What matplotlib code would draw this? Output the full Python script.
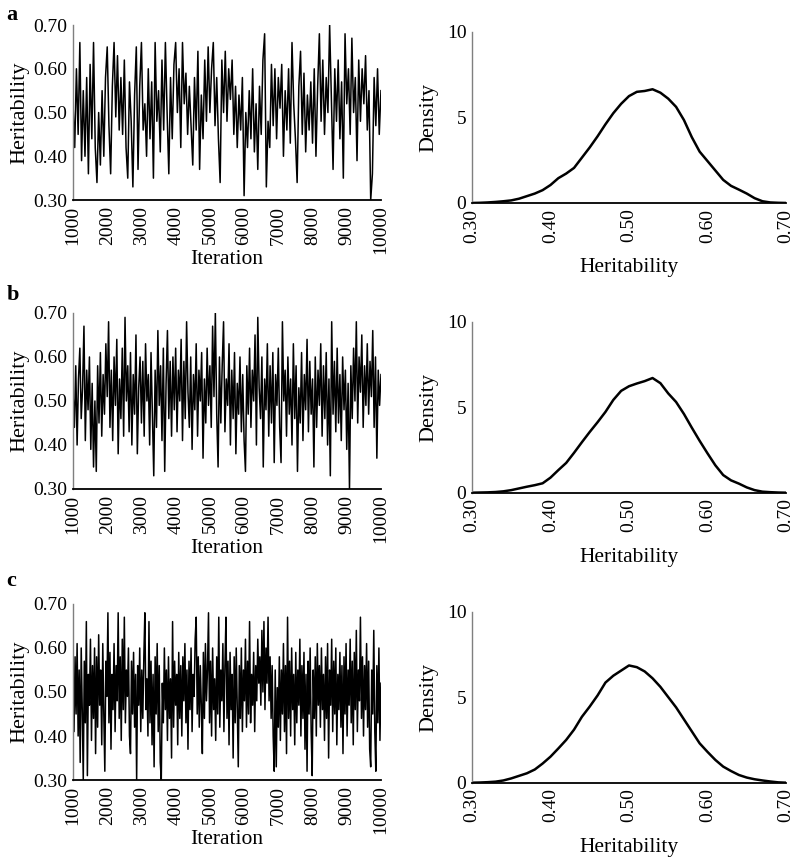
import numpy as np
import matplotlib
matplotlib.use("Agg")
import matplotlib.pyplot as plt

plt.rcParams['font.family'] = ['Liberation Serif', 'DejaVu Serif']
plt.rcParams['font.size'] = 14

trace_a = [52, 42, 60, 45, 66, 39, 55, 40, 58, 36, 61, 44, 66, 42, 34, 50, 38, 55, 40, 58,
           65, 47, 36, 56, 66, 49, 63, 46, 58, 45, 62, 42, 35, 57, 48, 33, 54, 65, 37, 56,
           66, 46, 52, 40, 60, 44, 57, 35, 66, 48, 55, 41, 62, 46, 66, 50, 36, 58, 44, 61,
           66, 50, 60, 42, 66, 52, 59, 45, 56, 47, 38, 58, 46, 64, 37, 54, 44, 62, 48, 65,
           50, 60, 66, 47, 58, 44, 34, 62, 50, 64, 48, 60, 53, 62, 45, 56, 42, 54, 46, 58,
           31, 50, 42, 55, 44, 60, 41, 52, 37, 56, 45, 62, 68, 33, 48, 42, 61, 47, 60, 44,
           58, 51, 61, 40, 55, 46, 60, 43, 66, 52, 44, 34, 56, 64, 45, 59, 41, 54, 46, 57,
           43, 60, 40, 56, 68, 48, 62, 45, 58, 50, 70, 53, 37, 60, 48, 62, 44, 57, 35, 68,
           52, 60, 45, 67, 50, 58, 39, 62, 48, 60, 52, 63, 46, 55, 30, 36, 58, 47, 60, 45,
           55]

trace_b = [52, 44, 58, 40, 55, 62, 46, 53, 67, 41, 57, 48, 60, 39, 54, 35, 50, 34, 58, 45, 61, 42, 56, 47, 63,
           51, 68, 44, 57, 41, 60, 49, 64, 38, 55, 46, 62, 42, 69, 50, 58, 43, 61, 40, 56, 47, 65, 38, 53, 60,
           45, 59, 42, 63, 50, 56, 40, 61, 47, 33, 57, 44, 66, 49, 58, 41, 62, 34, 54, 66, 46, 59, 42, 60, 48,
           62, 43, 57, 50, 64, 41, 59, 46, 68, 52, 44, 60, 39, 56, 48, 63, 42, 57, 50, 61, 37, 55, 45, 62, 49,
           58, 44, 67, 51, 70, 47, 35, 60, 45, 58, 68, 43, 55, 49, 63, 40, 57, 46, 61, 38, 54, 47, 60, 43, 56,
           41, 34, 58, 47, 62, 44, 57, 50, 65, 40, 69, 53, 46, 60, 35, 55, 48, 63, 42, 58, 45, 61, 36, 56, 49,
           62, 44, 36, 68, 50, 57, 42, 60, 47, 55, 40, 63, 46, 58, 34, 53, 45, 61, 41, 56, 48, 64, 43, 59, 47,
           55, 35, 60, 44, 57, 49, 63, 42, 58, 46, 61, 40, 55, 33, 68, 47, 59, 43, 62, 45, 56, 41, 60, 48, 57,
           39, 54, 30, 58, 46, 62, 50, 68, 45, 60, 52, 65, 44, 58, 49, 63, 47, 59, 51, 66, 44, 60, 37, 57, 49,
           56]

trace_c = [52, 41, 58, 45, 61, 40, 55, 34, 60, 46, 30, 57, 43, 66, 31, 54, 47, 62, 39, 56,
           44, 60, 36, 58, 42, 63, 47, 55, 38, 61, 45, 32, 57, 49, 68, 43, 59, 37, 54, 46,
           61, 41, 56, 48, 68, 44, 58, 39, 62, 46, 67, 43, 55, 49, 60, 40, 36, 57, 45, 59,
           42, 54, 30, 56, 47, 60, 41, 55, 44, 58, 68, 46, 53, 40, 66, 43, 57, 38, 54, 33,
           58, 45, 61, 41, 56, 34, 30, 52, 43, 60, 46, 55, 39, 58, 44, 53, 35, 66, 42, 57,
           47, 54, 38, 59, 44, 56, 40, 58, 48, 61, 43, 55, 37, 57, 46, 60, 41, 54, 49, 62,
           67, 45, 58, 42, 56, 47, 36, 59, 44, 61, 48, 55, 68, 43, 57, 40, 60, 46, 53, 39,
           58, 45, 67, 42, 55, 48, 61, 41, 56, 67, 44, 57, 38, 59, 46, 54, 35, 58, 43, 60,
           47, 33, 56, 44, 60, 41, 55, 48, 62, 42, 57, 45, 66, 43, 54, 47, 59, 41, 56, 48,
           62, 52, 58, 47, 64, 50, 66, 46, 60, 52, 67, 48, 58, 44, 56, 40, 32, 55, 33, 51,
           42, 58, 39, 55, 45, 61, 41, 56, 36, 67, 44, 57, 40, 60, 46, 54, 38, 59, 43, 55,
           47, 62, 40, 56, 44, 59, 37, 54, 32, 57, 45, 60, 41, 31, 55, 44, 58, 40, 61, 47,
           56, 42, 60, 46, 54, 39, 58, 44, 61, 35, 55, 47, 62, 41, 57, 45, 60, 38, 54, 46,
           59, 42, 56, 36, 58, 45, 61, 40, 55, 47, 62, 43, 57, 38, 59, 46, 64, 41, 55, 48,
           67, 44, 58, 40, 56, 46, 61, 42, 57, 37, 33, 55, 45, 64, 41, 32, 56, 43, 60, 39,
           52]

# Density curves read at every 0.01 from 0.30 to 0.70
dens_x = [0.30, 0.31, 0.32, 0.33, 0.34, 0.35, 0.36, 0.37, 0.38, 0.39, 0.40,
          0.41, 0.42, 0.43, 0.44, 0.45, 0.46, 0.47, 0.48, 0.49, 0.50,
          0.51, 0.52, 0.53, 0.54, 0.55, 0.56, 0.57, 0.58, 0.59, 0.60,
          0.61, 0.62, 0.63, 0.64, 0.65, 0.66, 0.67, 0.68, 0.69, 0.70]
dens_a = [0.0, 0.01, 0.03, 0.06, 0.1, 0.15, 0.25, 0.4, 0.55, 0.75, 1.05,
          1.45, 1.72, 2.05, 2.65, 3.25, 3.9, 4.6, 5.25, 5.8, 6.25,
          6.5, 6.55, 6.65, 6.45, 6.1, 5.62, 4.85, 3.85, 3.0, 2.45,
          1.9, 1.35, 1.0, 0.78, 0.55, 0.28, 0.1, 0.03, 0.01, 0.0]
dens_b = [0.0, 0.01, 0.02, 0.04, 0.08, 0.15, 0.25, 0.35, 0.44, 0.55, 0.88,
          1.32, 1.74, 2.33, 2.95, 3.55, 4.12, 4.72, 5.42, 5.95, 6.22,
          6.38, 6.52, 6.7, 6.4, 5.8, 5.3, 4.6, 3.8, 3.03, 2.3,
          1.6, 1.03, 0.72, 0.53, 0.31, 0.15, 0.06, 0.03, 0.01, 0.0]
dens_c = [0.0, 0.01, 0.03, 0.06, 0.13, 0.25, 0.4, 0.55, 0.77, 1.12, 1.52,
          2.0, 2.5, 3.1, 3.85, 4.45, 5.1, 5.85, 6.25, 6.55, 6.85,
          6.75, 6.5, 6.1, 5.6, 5.0, 4.4, 3.7, 3.0, 2.3, 1.8,
          1.33, 0.94, 0.68, 0.45, 0.3, 0.2, 0.13, 0.07, 0.02, 0.0]

traces = [trace_a, trace_b, trace_c]
densities = [dens_a, dens_b, dens_c]
panel_labels = ['a', 'b', 'c']

fig = plt.figure(figsize=(7.97, 8.60), dpi=100)

trace_boxes = [[0.0916, 0.7674, 0.3864, 0.2035],
               [0.0916, 0.4314, 0.3864, 0.2047],
               [0.0916, 0.0930, 0.3864, 0.2047]]
dens_boxes = [[0.5922, 0.7640, 0.3940, 0.1988],
              [0.5922, 0.4271, 0.3940, 0.1990],
              [0.5922, 0.0899, 0.3940, 0.1990]]
label_y = [0.983, 0.657, 0.325]

def style(ax):
    ax.spines['top'].set_visible(False)
    ax.spines['right'].set_visible(False)
    ax.spines['left'].set_color('#7f7f7f')
    ax.spines['left'].set_linewidth(1.0)
    ax.spines['bottom'].set_color('black')
    ax.spines['bottom'].set_linewidth(1.3)
    ax.tick_params(length=0, pad=4, labelsize=14)
    ax.tick_params(axis='x', rotation=90)

for i in range(3):
    vals = np.array(traces[i]) / 100.0
    it = np.linspace(1000, 10000, len(vals))
    ax = fig.add_axes(trace_boxes[i])
    ax.plot(it, vals, color='black', linewidth=1.1)
    ax.set_xlim(1000, 10000)
    ax.set_ylim(0.30, 0.70)
    ax.set_xticks(np.arange(1000, 10001, 1000))
    ax.set_yticks([0.30, 0.40, 0.50, 0.60, 0.70])
    ax.set_yticklabels(['0.30', '0.40', '0.50', '0.60', '0.70'])
    ax.set_xlabel('Iteration', fontsize=15.5, labelpad=-3)
    ax.set_ylabel('Heritability', fontsize=16, labelpad=3)
    style(ax)

    ax2 = fig.add_axes(dens_boxes[i])
    ax2.plot(dens_x, densities[i], color='black', linewidth=1.8)
    ax2.set_xlim(0.30, 0.70)
    ax2.set_ylim(0, 10)
    ax2.set_xticks([0.30, 0.40, 0.50, 0.60, 0.70])
    ax2.set_xticklabels(['0.30', '0.40', '0.50', '0.60', '0.70'])
    ax2.set_yticks([0, 5, 10])
    ax2.set_xlabel('Heritability', fontsize=15.5, labelpad=11)
    ax2.set_ylabel('Density', fontsize=16, labelpad=6)
    style(ax2)

    fig.text(0.008, label_y[i], panel_labels[i], fontsize=16, fontweight='bold', va='center')

plt.savefig('out.png', dpi=100)
